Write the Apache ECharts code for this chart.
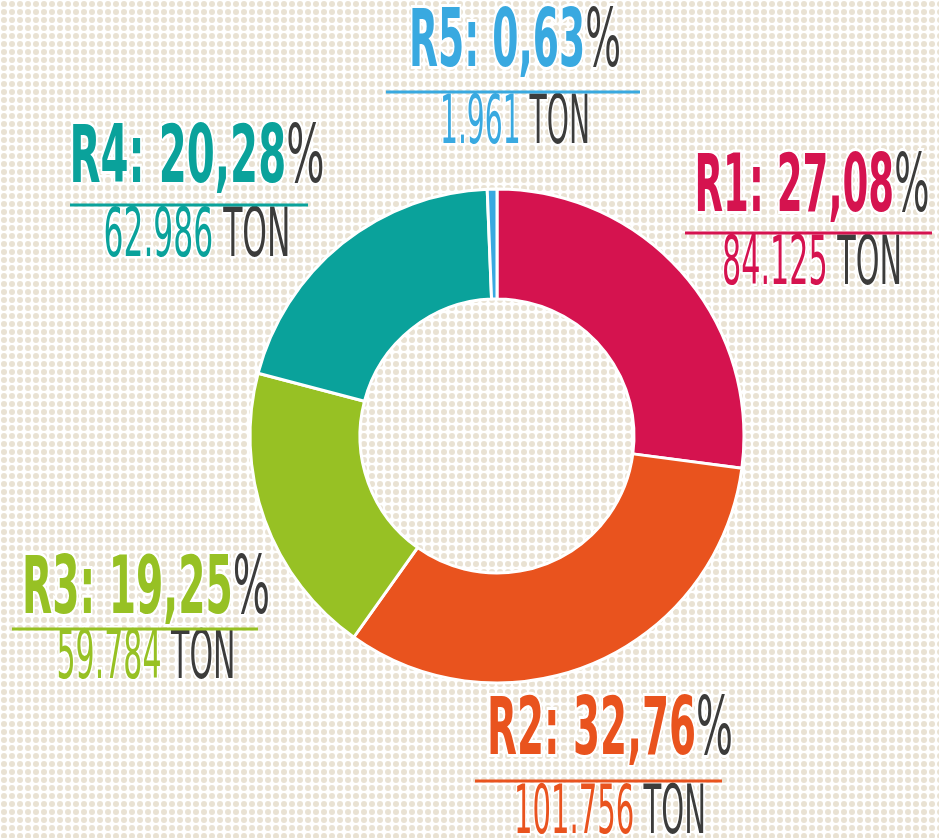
<!DOCTYPE html>
<html>
<head>
<meta charset="utf-8">
<script src="https://cdn.jsdelivr.net/npm/echarts@6/dist/echarts.min.js"></script>
<style>
html,body{margin:0;padding:0;background:#fff;}
#chart{width:939px;height:838px;}
</style>
</head>
<body>
<div id="chart"></div>
<script>
// ---- data ----
const regions = ['R1', 'R2', 'R3', 'R4', 'R5'];
const tonnes = [84125, 101756, 59784, 62986, 1961];
const unit = 'TON';
const colors = ['#d5134f', '#e9531e', '#97c124', '#0aa29b', '#39a9e0'];

// ---- layout (label placement only) ----
const labelPos = [
  {cx: 812, ty: 190, ly: 233, lx1: 685, lx2: 932, vy: 267, tw: 235, vw: 180},
  {cx: 610, ty: 733, ly: 781, lx1: 475, lx2: 722, vy: 816, tw: 246, vw: 192},
  {cx: 146, ty: 592, ly: 629, lx1: 12,  lx2: 258, vy: 661, tw: 248, vw: 179},
  {cx: 197, ty: 161, ly: 205, lx1: 70,  lx2: 308, vy: 239, tw: 255, vw: 187},
  {cx: 515, ty: 45,  ly: 92,  lx1: 386, lx2: 640, vy: 126, tw: 212, vw: 150}
];
const dark = '#3c3c3b';
const FONT = '"Liberation Sans Narrow", "DejaVu Sans Condensed", "Liberation Sans", sans-serif';
const TSIZE = 80, VSIZE = 67;

const total = tonnes.reduce((a, b) => a + b, 0);
const pctStr = v => (v / total * 100).toFixed(2).replace('.', ',');
const numStr = v => String(v).replace(/\B(?=(\d{3})+(?!\d))/g, '.');

// dotted background pattern
const pat = document.createElement('canvas');
pat.width = 8; pat.height = 8;
const pc = pat.getContext('2d');
pc.fillStyle = '#ffffff'; pc.fillRect(0, 0, 8, 8);
pc.fillStyle = '#e9e2d3';
pc.beginPath(); pc.arc(4, 4, 3, 0, Math.PI * 2); pc.fill();

// measure helper
const mc = document.createElement('canvas').getContext('2d');
function measure(parts) {
  let w = 0;
  parts.forEach(p => { mc.font = p.font; w += mc.measureText(p.text).width; });
  return w;
}

const graphics = [];
regions.forEach((r, i) => {
  const p = labelPos[i];
  const col = colors[i];
  const tMain = r + ': ' + pctStr(tonnes[i]);
  const vMain = numStr(tonnes[i]) + ' ';
  const tW = measure([{text: tMain, font: 'bold ' + TSIZE + 'px ' + FONT}, {text: '%', font: 'normal ' + TSIZE + 'px ' + FONT}]);
  const vW = measure([{text: vMain, font: 'normal ' + VSIZE + 'px ' + FONT}, {text: unit, font: 'normal ' + VSIZE + 'px ' + FONT}]);
  graphics.push({
    type: 'text', x: p.cx, y: p.ty, scaleX: p.tw / tW, z: 10,
    style: {
      text: '{a|' + tMain + '}{b|%}',
      x: 0, y: 0, align: 'center', verticalAlign: 'middle',
      rich: {
        a: {fill: col, fontFamily: FONT, fontWeight: 'bold', fontSize: TSIZE, stroke: '#fff', lineWidth: 6},
        b: {fill: dark, fontFamily: FONT, fontWeight: 'normal', fontSize: TSIZE, stroke: '#fff', lineWidth: 6}
      }
    }
  });
  graphics.push({
    type: 'line', z: 11,
    shape: {x1: p.lx1, y1: p.ly, x2: p.lx2, y2: p.ly},
    style: {stroke: col, lineWidth: 3}
  });
  graphics.push({
    type: 'text', x: p.cx, y: p.vy, scaleX: p.vw / vW, z: 10,
    style: {
      text: '{a|' + vMain + '}{b|' + unit + '}',
      x: 0, y: 0, align: 'center', verticalAlign: 'middle',
      rich: {
        a: {fill: col, fontFamily: FONT, fontSize: VSIZE, stroke: '#fff', lineWidth: 5},
        b: {fill: dark, fontFamily: FONT, fontSize: VSIZE, stroke: '#fff', lineWidth: 5}
      }
    }
  });
});

const chart = echarts.init(document.getElementById('chart'), null, {renderer: 'canvas'});
chart.setOption({
  animation: false,
  backgroundColor: {image: pat, repeat: 'repeat'},
  series: [{
    type: 'pie',
    center: [497, 436],
    radius: [137, 247],
    startAngle: 90,
    clockwise: true,
    silent: true,
    label: {show: false},
    labelLine: {show: false},
    itemStyle: {borderColor: '#fff', borderWidth: 3},
    data: regions.map((r, i) => ({name: r, value: tonnes[i], itemStyle: {color: colors[i]}}))
  }],
  graphic: graphics
});
</script>
</body>
</html>
